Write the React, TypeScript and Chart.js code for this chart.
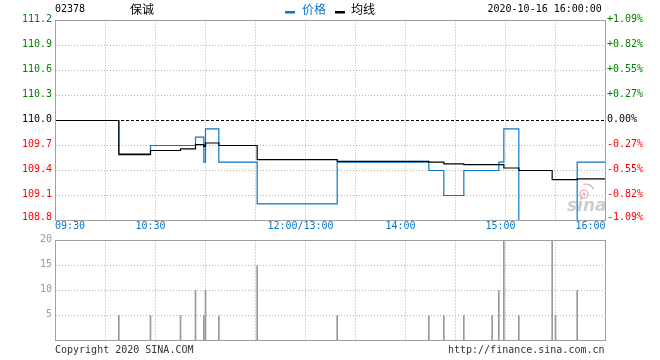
import React, { useEffect, useRef } from "react";
import { Chart, registerables } from "chart.js";

Chart.register(...registerables);

// ---------- data ----------
const stockCode = "02378";
const stockName = "保诚";
const legendPrice = "价格";
const legendAvg = "均线";
const timestamp = "2020-10-16 16:00:00";
const copyrightText = "Copyright 2020 SINA.COM";
const siteText = "http://finance.sina.com.cn";
const prevClose = 110.0;

// trading minutes since 09:30 (lunch break removed), 0..330
const gridMinutes = [0, 30, 60, 90, 120, 150, 180, 210, 240, 270, 300, 330];
const timeTickMinutes = [0, 60, 150, 210, 270, 330];
const timeTickLabels = ["09:30", "10:30", "12:00/13:00", "14:00", "15:00", "16:00"];

const priceTicks = [108.8, 109.1, 109.4, 109.7, 110.0, 110.3, 110.6, 110.9, 111.2];
const priceTickLabels = ["108.8", "109.1", "109.4", "109.7", "110.0", "110.3", "110.6", "110.9", "111.2"];
const pctTickLabels = ["-1.09%", "-0.82%", "-0.55%", "-0.27%", "0.00%", "+0.27%", "+0.55%", "+0.82%", "+1.09%"];

const volTicks = [0, 5, 10, 15, 20];
const volTickLabels = ["", "5", "10", "15", "20"];

const priceMinutes = [0, 38, 57, 84, 89, 90, 98, 121, 169, 224, 233, 245, 266, 269, 278, 313, 330];
const priceValues = [110.0, 109.6, 109.7, 109.8, 109.5, 109.9, 109.5, 109.0, 109.5, 109.4, 109.1, 109.4, 109.5, 109.9, 108.8, 109.5, 109.5];

const avgMinutes = [0, 38, 57, 75, 84, 89, 90, 98, 121, 169, 224, 233, 245, 269, 278, 298, 313, 330];
const avgValues = [110.0, 109.59, 109.64, 109.66, 109.71, 109.69, 109.73, 109.7, 109.53, 109.51, 109.5, 109.48, 109.47, 109.43, 109.4, 109.29, 109.3, 109.3];

const volMinutes = [38, 57, 75, 84, 89, 90, 98, 121, 169, 224, 233, 245, 262, 266, 269, 278, 298, 300, 313];
const volValues = [5, 5, 5, 10, 5, 10, 5, 15, 5, 5, 5, 5, 5, 10, 20, 5, 20, 5, 10];

// ---------- styles ----------
const BLUE = "#0877c9";
const GREEN = "#008000";
const RED = "#ff0000";
const GRID = "#b0b0b0";
const FRAME = "#a0a0a0";
const VOLC = "#999999";
const MONO = '10px "DejaVu Sans Mono", monospace';
const CJK = '12px "Noto Sans CJK SC", sans-serif';

const W = 660;
const H = 360;

function frame(chart: any) {
  const { left, right, top, bottom } = chart.chartArea;
  const ctx = chart.ctx;
  const L = Math.floor(left) + 0.5;
  const R = Math.floor(right) + 0.5;
  const T = Math.floor(top) + 0.5;
  const B = Math.floor(bottom) + 0.5;
  ctx.save();
  ctx.setLineDash([]);
  ctx.strokeStyle = FRAME;
  ctx.lineWidth = 1;
  ctx.strokeRect(L, T, R - L, B - T);
  ctx.restore();
}

const priceTextPlugin = {
  id: "priceText",
  beforeDatasetsDraw(chart: any) {
    // sina watermark
    const ctx = chart.ctx;
    ctx.save();
    ctx.font = 'italic bold 17px "DejaVu Sans", sans-serif';
    ctx.fillStyle = "rgba(190,190,190,0.75)";
    ctx.textAlign = "left";
    ctx.textBaseline = "alphabetic";
    ctx.fillText("sina", 567, 211);
    ctx.strokeStyle = "rgba(235,140,140,0.8)";
    ctx.lineWidth = 1.2;
    ctx.beginPath();
    ctx.arc(584, 194, 4, 0, Math.PI * 2);
    ctx.stroke();
    ctx.fillStyle = "rgba(230,150,150,0.8)";
    ctx.beginPath();
    ctx.arc(584, 194, 1.6, 0, Math.PI * 2);
    ctx.fill();
    ctx.beginPath();
    ctx.arc(586, 192, 8, -Math.PI * 0.6, -Math.PI * 0.1);
    ctx.stroke();
    ctx.restore();
  },
  afterDraw(chart: any) {
    const ctx = chart.ctx;
    const { left, right, top, bottom } = chart.chartArea;
    const xs = chart.scales.x;
    const ys = chart.scales.y;
    frame(chart);
    ctx.save();
    ctx.font = MONO;
    ctx.textBaseline = "middle";
    priceTicks.forEach((v, i) => {
      const y = Math.min(Math.max(ys.getPixelForValue(v) - 1.5, top - 3), bottom - 3);
      ctx.fillStyle = v > prevClose ? GREEN : v < prevClose ? RED : "#000";
      ctx.textAlign = "right";
      ctx.fillText(priceTickLabels[i], left - 3.5, y);
      ctx.textAlign = "left";
      ctx.fillText(pctTickLabels[i], right + 1.5, y);
    });
    // time labels
    ctx.fillStyle = BLUE;
    timeTickMinutes.forEach((m, i) => {
      const x = xs.getPixelForValue(m);
      const n = timeTickMinutes.length;
      if (i === 0) {
        ctx.textAlign = "left";
        ctx.fillText(timeTickLabels[i], x - 0.5, bottom + 6);
      } else if (i === n - 1) {
        ctx.textAlign = "right";
        ctx.fillText(timeTickLabels[i], x, bottom + 6);
      } else {
        ctx.textAlign = "center";
        ctx.fillText(timeTickLabels[i], x - 5, bottom + 6);
      }
    });
    // header
    ctx.fillStyle = "#000";
    ctx.textAlign = "left";
    ctx.fillText(stockCode, 55, 9);
    ctx.textAlign = "left";
    ctx.fillText(timestamp, 487.5, 9.5);
    ctx.font = CJK;
    ctx.fillText(stockName, 130, 9.5);
    ctx.fillStyle = BLUE;
    ctx.fillRect(285, 11, 10, 2.5);
    ctx.fillText(legendPrice, 302, 9.5);
    ctx.fillStyle = "#000";
    ctx.fillRect(335, 11, 10, 2.5);
    ctx.fillText(legendAvg, 351, 9.5);
    // footer
    ctx.font = MONO;
    ctx.fillStyle = "#333";
    ctx.textAlign = "left";
    ctx.fillText(copyrightText, 55, 350);
    ctx.textAlign = "right";
    ctx.fillText(siteText, 604.5, 350);
    ctx.restore();
  },
};

const volTextPlugin = {
  id: "volText",
  afterDraw(chart: any) {
    const ctx = chart.ctx;
    const { left, top } = chart.chartArea;
    const ys = chart.scales.y;
    frame(chart);
    ctx.save();
    ctx.font = MONO;
    ctx.textBaseline = "middle";
    ctx.textAlign = "right";
    ctx.fillStyle = VOLC;
    volTicks.forEach((v, i) => {
      if (!volTickLabels[i]) return;
      const y = Math.max(ys.getPixelForValue(v) - 1, top - 2.5);
      ctx.fillText(volTickLabels[i], left - 3.5, y);
    });
    ctx.restore();
  },
};

const dottedGrid = (refValue?: number) => ({
  grid: {
    color: (c: any) => (refValue !== undefined && c.tick && c.tick.value === refValue ? "#000" : GRID),
    lineWidth: 1,
    drawTicks: false,
    offset: false,
  },
  border: {
    display: false,
    dash: (c: any) => (refValue !== undefined && c.tick && c.tick.value === refValue ? [3, 2] : [1, 2]),
  },
  ticks: { display: false },
});

export default function App() {
  const priceRef = useRef<HTMLCanvasElement>(null);
  const volRef = useRef<HTMLCanvasElement>(null);

  useEffect(() => {
    const priceChart = new Chart(priceRef.current as HTMLCanvasElement, {
      type: "line",
      data: {
        datasets: [
          {
            label: legendAvg,
            data: avgMinutes.map((m, i) => ({ x: m, y: avgValues[i] })),
            borderColor: "#000",
            borderWidth: 1.2,
            pointRadius: 0,
            stepped: "before",
            order: 0,
          },
          {
            label: legendPrice,
            data: priceMinutes.map((m, i) => ({ x: m, y: priceValues[i] })),
            borderColor: BLUE,
            borderWidth: 1.2,
            pointRadius: 0,
            stepped: "before",
            order: 1,
          },
        ],
      },
      options: {
        responsive: false,
        animation: false,
        events: [],
        layout: { padding: { left: 55.5, right: 54.5, top: 20.5, bottom: 139.5 } },
        plugins: { legend: { display: false }, tooltip: { enabled: false } },
        scales: {
          x: {
            type: "linear",
            min: 0,
            max: 330,
            ...dottedGrid(),
            afterBuildTicks: (s: any) => {
              s.ticks = gridMinutes.map((v) => ({ value: v }));
            },
          },
          y: {
            type: "linear",
            min: priceTicks[0],
            max: priceTicks[priceTicks.length - 1],
            ...dottedGrid(prevClose),
            afterBuildTicks: (s: any) => {
              s.ticks = priceTicks.map((v) => ({ value: v }));
            },
          },
        },
      } as any,
      plugins: [priceTextPlugin],
    });

    const volChart = new Chart(volRef.current as HTMLCanvasElement, {
      type: "bar",
      data: {
        datasets: [
          {
            label: "vol",
            data: volMinutes.map((m, i) => ({ x: m, y: volValues[i] })),
            backgroundColor: VOLC,
            borderWidth: 0,
            barThickness: 1,
          },
        ],
      },
      options: {
        responsive: false,
        animation: false,
        events: [],
        layout: { padding: { left: 55.5, right: 54.5, top: 240.5, bottom: 19.5 } },
        plugins: { legend: { display: false }, tooltip: { enabled: false } },
        scales: {
          x: {
            type: "linear",
            min: 0,
            max: 330,
            offset: false,
            ...dottedGrid(),
            afterBuildTicks: (s: any) => {
              s.ticks = gridMinutes.map((v) => ({ value: v }));
            },
          },
          y: {
            type: "linear",
            min: 0,
            max: 20,
            ...dottedGrid(),
            afterBuildTicks: (s: any) => {
              s.ticks = volTicks.map((v) => ({ value: v }));
            },
          },
        },
      } as any,
      plugins: [volTextPlugin],
    });

    return () => {
      priceChart.destroy();
      volChart.destroy();
    };
  }, []);

  return (
    <div style={{ position: "fixed", left: 0, top: 0, width: W, height: H, background: "#fff" }}>
      <canvas ref={priceRef} width={W} height={H} style={{ position: "absolute", left: 0, top: 0 }} />
      <canvas ref={volRef} width={W} height={H} style={{ position: "absolute", left: 0, top: 0 }} />
    </div>
  );
}
